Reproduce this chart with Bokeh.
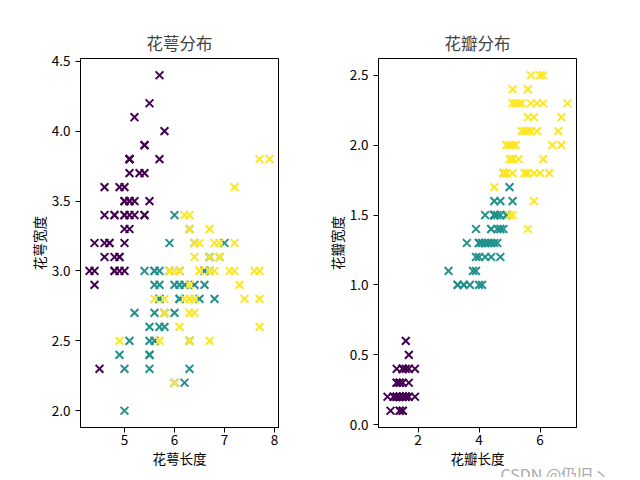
from bokeh.plotting import figure
from bokeh.layouts import row
from bokeh.models import Range1d, FixedTicker, Title, CustomJSTickFormatter
from bokeh.embed import file_html
from bokeh.resources import INLINE

# Iris data: sepal length, sepal width, petal length, petal width per species
setosa_sl = [5.1,4.9,4.7,4.6,5.0,5.4,4.6,5.0,4.4,4.9,5.4,4.8,4.8,4.3,5.8,5.7,5.4,5.1,5.7,5.1,
             5.4,5.1,4.6,5.1,4.8,5.0,5.0,5.2,5.2,4.7,4.8,5.4,5.2,5.5,4.9,5.0,5.5,4.9,4.4,5.1,
             5.0,4.5,4.4,5.0,5.1,4.8,5.1,4.6,5.3,5.0]
setosa_sw = [3.5,3.0,3.2,3.1,3.6,3.9,3.4,3.4,2.9,3.1,3.7,3.4,3.0,3.0,4.0,4.4,3.9,3.5,3.8,3.8,
             3.4,3.7,3.6,3.3,3.4,3.0,3.4,3.5,3.4,3.2,3.1,3.4,4.1,4.2,3.1,3.2,3.5,3.6,3.0,3.4,
             3.5,2.3,3.2,3.5,3.8,3.0,3.8,3.2,3.7,3.3]
setosa_pl = [1.4,1.4,1.3,1.5,1.4,1.7,1.4,1.5,1.4,1.5,1.5,1.6,1.4,1.1,1.2,1.5,1.3,1.4,1.7,1.5,
             1.7,1.5,1.0,1.7,1.9,1.6,1.6,1.5,1.4,1.6,1.6,1.5,1.5,1.4,1.5,1.2,1.3,1.4,1.3,1.5,
             1.3,1.3,1.3,1.6,1.9,1.4,1.6,1.4,1.5,1.4]
setosa_pw = [0.2,0.2,0.2,0.2,0.2,0.4,0.3,0.2,0.2,0.1,0.2,0.2,0.1,0.1,0.2,0.4,0.4,0.3,0.3,0.3,
             0.2,0.4,0.2,0.5,0.2,0.2,0.4,0.2,0.2,0.2,0.2,0.4,0.1,0.2,0.2,0.2,0.2,0.1,0.2,0.2,
             0.3,0.3,0.2,0.6,0.4,0.3,0.2,0.2,0.2,0.2]

versicolor_sl = [7.0,6.4,6.9,5.5,6.5,5.7,6.3,4.9,6.6,5.2,5.0,5.9,6.0,6.1,5.6,6.7,5.6,5.8,6.2,5.6,
                 5.9,6.1,6.3,6.1,6.4,6.6,6.8,6.7,6.0,5.7,5.5,5.5,5.8,6.0,5.4,6.0,6.7,6.3,5.6,5.5,
                 5.5,6.1,5.8,5.0,5.6,5.7,5.7,6.2,5.1,5.7]
versicolor_sw = [3.2,3.2,3.1,2.3,2.8,2.8,3.3,2.4,2.9,2.7,2.0,3.0,2.2,2.9,2.9,3.1,3.0,2.7,2.2,2.5,
                 3.2,2.8,2.5,2.8,2.9,3.0,2.8,3.0,2.9,2.6,2.4,2.4,2.7,2.7,3.0,3.4,3.1,2.3,3.0,2.5,
                 2.6,3.0,2.6,2.3,2.7,3.0,2.9,2.9,2.5,2.8]
versicolor_pl = [4.7,4.5,4.9,4.0,4.6,4.5,4.7,3.3,4.6,3.9,3.5,4.2,4.0,4.7,3.6,4.4,4.5,4.1,4.5,3.9,
                 4.8,4.0,4.9,4.7,4.3,4.4,4.8,5.0,4.5,3.5,3.8,3.7,3.9,5.1,4.5,4.5,4.7,4.4,4.1,4.0,
                 4.4,4.6,4.0,3.3,4.2,4.2,4.2,4.3,3.0,4.1]
versicolor_pw = [1.4,1.5,1.5,1.3,1.5,1.3,1.6,1.0,1.3,1.4,1.0,1.5,1.0,1.4,1.3,1.4,1.5,1.0,1.5,1.1,
                 1.8,1.3,1.5,1.2,1.3,1.4,1.4,1.7,1.5,1.0,1.1,1.0,1.2,1.6,1.5,1.6,1.5,1.3,1.3,1.3,
                 1.2,1.4,1.2,1.0,1.3,1.2,1.3,1.3,1.1,1.3]

virginica_sl = [6.3,5.8,7.1,6.3,6.5,7.6,4.9,7.3,6.7,7.2,6.5,6.4,6.8,5.7,5.8,6.4,6.5,7.7,7.7,6.0,
                6.9,5.6,7.7,6.3,6.7,7.2,6.2,6.1,6.4,7.2,7.4,7.9,6.4,6.3,6.1,7.7,6.3,6.4,6.0,6.9,
                6.7,6.9,5.8,6.8,6.7,6.7,6.3,6.5,6.2,5.9]
virginica_sw = [3.3,2.7,3.0,2.9,3.0,3.0,2.5,2.9,2.5,3.6,3.2,2.7,3.0,2.5,2.8,3.2,3.0,3.8,2.6,2.2,
                3.2,2.8,2.8,2.7,3.3,3.2,2.8,3.0,2.8,3.0,2.8,3.8,2.8,2.8,2.6,3.0,3.4,3.1,3.0,3.1,
                3.1,3.1,2.7,3.2,3.3,3.0,2.5,3.0,3.4,3.0]
virginica_pl = [6.0,5.1,5.9,5.6,5.8,6.6,4.5,6.3,5.8,6.1,5.1,5.3,5.5,5.0,5.1,5.3,5.5,6.7,6.9,5.0,
                5.7,4.9,6.7,4.9,5.7,6.0,4.8,4.9,5.6,5.8,6.1,6.4,5.6,5.1,5.6,6.1,5.6,5.5,4.8,5.4,
                5.6,5.1,5.1,5.9,5.7,5.2,5.0,5.2,5.4,5.1]
virginica_pw = [2.5,1.9,2.1,1.8,2.2,2.1,1.7,1.8,1.8,2.5,2.0,1.9,2.1,2.0,2.4,2.3,1.8,2.2,2.3,1.5,
                2.3,2.0,2.0,1.8,2.1,1.8,1.8,1.8,2.1,1.6,1.9,2.0,2.2,1.5,1.4,2.3,2.4,1.8,1.8,2.1,
                2.4,2.3,1.9,2.3,2.5,2.3,1.9,2.0,2.3,1.8]

species_colors = ["#440154", "#21918c", "#fde725"]

titles = ["花萼分布", "花瓣分布"]
x_labels = ["花萼长度", "花瓣长度"]
y_labels = ["花萼宽度", "花瓣宽度"]
left_x_ticks = [5, 6, 7, 8]
left_y_ticks = [2.0, 2.5, 3.0, 3.5, 4.0, 4.5]
right_x_ticks = [2, 4, 6]
right_y_ticks = [0.0, 0.5, 1.0, 1.5, 2.0, 2.5]
watermark = "CSDN @仍旧丶"

FONT = "Noto Sans CJK SC"


def padded(vals):
    lo, hi = min(vals), max(vals)
    m = (hi - lo) * 0.05
    return Range1d(lo - m, hi + m)


def make_fig(xs, ys, title, xl, yl, xt, yt, bl, br):
    allx = [v for s in xs for v in s]
    ally = [v for s in ys for v in s]
    p = figure(frame_width=198, frame_height=369,
               min_border_left=bl, min_border_right=br,
               min_border_top=58, min_border_bottom=50,
               x_range=padded(allx), y_range=padded(ally),
               output_backend="svg", toolbar_location=None, title=title)
    for sx, sy, c in zip(xs, ys, species_colors):
        p.scatter(sx, sy, marker="x", size=11, line_color=c, line_width=2)
    p.title.align = "center"
    p.title.text_font = FONT
    p.title.text_font_size = "16.5px"
    p.title.text_font_style = "normal"
    p.title.standoff = 7
    p.xgrid.visible = False
    p.ygrid.visible = False
    p.outline_line_color = "black"
    p.outline_line_width = 1
    p.xaxis.ticker = FixedTicker(ticks=xt)
    p.yaxis.ticker = FixedTicker(ticks=yt)
    p.yaxis.formatter = CustomJSTickFormatter(code="return tick.toFixed(1);")
    for ax, lab in ((p.xaxis, xl), (p.yaxis, yl)):
        ax.axis_label = lab
        ax.axis_label_text_font = FONT
        ax.axis_label_text_font_size = "13.5px"
        ax.axis_label_text_font_style = "normal"
        ax.axis_label_standoff = 0
        ax.major_label_text_font = FONT
        ax.major_label_text_font_size = "13.5px"
        ax.major_label_standoff = 3
        ax.major_tick_out = 5
        ax.major_tick_in = 0
        ax.minor_tick_out = 0
        ax.minor_tick_in = 0
        ax.axis_line_color = "black"
        ax.major_tick_line_color = "black"
        ax.major_label_text_color = "black"
        ax.axis_label_text_color = "black"
    p.xaxis.major_label_standoff = 2
    p.yaxis.major_label_standoff = 5
    return p


p1 = make_fig([setosa_sl, versicolor_sl, virginica_sl],
              [setosa_sw, versicolor_sw, virginica_sw],
              titles[0], x_labels[0], y_labels[0], left_x_ticks, left_y_ticks, 80, 30)

p2 = make_fig([setosa_pl, versicolor_pl, virginica_pl],
              [setosa_pw, versicolor_pw, virginica_pw],
              titles[1], x_labels[1], y_labels[1], right_x_ticks, right_y_ticks, 70, 64)

wm = Title(text=watermark, align="left", offset=122, standoff=-30,
           text_font=FONT, text_font_size="16px", text_color="#aaaaaa",
           text_font_style="normal")
p2.add_layout(wm, "below")

layout = row(p1, p2)
open("out.html", "w").write(file_html(layout, INLINE))
